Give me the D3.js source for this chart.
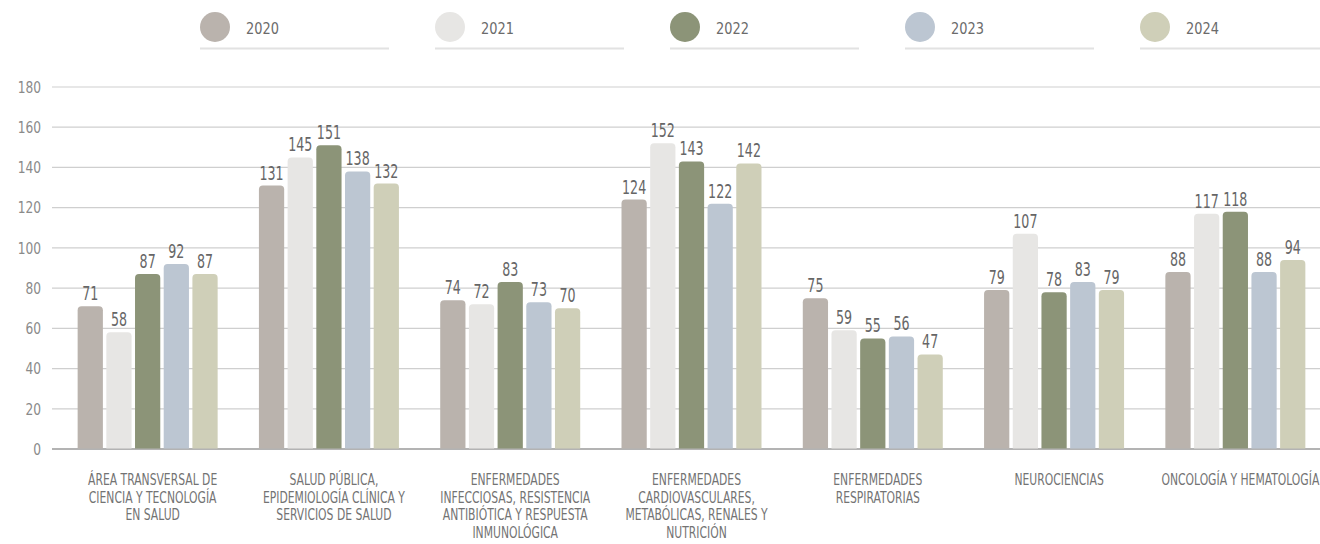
<!DOCTYPE html>
<html><head><meta charset="utf-8">
<script src="https://cdn.jsdelivr.net/npm/d3@7"></script>
<style>
body{margin:0;background:#fff;}
svg{font-family:"DejaVu Sans Condensed","Liberation Sans Narrow",sans-serif;}
</style></head>
<body><svg id="c" width="1320" height="544"></svg>
<script>
const categories = [
  ["ÁREA TRANSVERSAL DE","CIENCIA Y TECNOLOGÍA","EN SALUD"],
  ["SALUD PÚBLICA,","EPIDEMIOLOGÍA CLÍNICA Y","SERVICIOS DE SALUD"],
  ["ENFERMEDADES","INFECCIOSAS, RESISTENCIA","ANTIBIÓTICA Y RESPUESTA","INMUNOLÓGICA"],
  ["ENFERMEDADES","CARDIOVASCULARES,","METABÓLICAS, RENALES Y","NUTRICIÓN"],
  ["ENFERMEDADES","RESPIRATORIAS"],
  ["NEUROCIENCIAS"],
  ["ONCOLOGÍA Y HEMATOLOGÍA"]
];
const years = ["2020","2021","2022","2023","2024"];
const v2020 = [71,131,74,124,75,79,88];
const v2021 = [58,145,72,152,59,107,117];
const v2022 = [87,151,83,143,55,78,118];
const v2023 = [92,138,73,122,56,83,88];
const v2024 = [87,132,70,142,47,79,94];
const yTicks = [0,20,40,60,80,100,120,140,160,180];
const colors = ["#bab3ad","#e7e6e4","#8c9478","#bcc6d2","#cfcfb8"];

const series = [v2020,v2021,v2022,v2023,v2024];
const svg = d3.select("#c");
const y = d3.scaleLinear().domain([0,180]).range([449,87]);
const x0 = d3.scaleBand().domain(d3.range(categories.length)).range([57,1326]).paddingInner(0).paddingOuter(0);
const x1 = d3.scaleBand().domain(years).range([x0.bandwidth()/2-70, x0.bandwidth()/2+70]).paddingInner(0.12);

// condensed text helper
function ctext(sel, x, yy, sx){
  return sel.append("text").attr("transform",`translate(${x},${yy}) scale(${sx},1)`);
}

// grid
svg.append("g").selectAll("line").data(yTicks).join("line")
  .attr("x1",52).attr("x2",1320)
  .attr("y1",d=>y(d)).attr("y2",d=>y(d))
  .attr("stroke",d=>d===0?"#9a9a9a":"#cfcfcf").attr("stroke-width",d=>d===0?1.5:1.2);
const yl = svg.append("g");
yTicks.forEach(d=>{
  ctext(yl,41,y(d),0.85).attr("dy","0.36em").attr("text-anchor","end")
    .attr("fill","#8a8a8a").attr("font-size",16).text(d);
});

// bars
const r = 4;
function barPath(x,w,top,bottom){
  const h = bottom-top; const rr=Math.min(r,h/2,w/2);
  return `M${x},${bottom}V${top+rr}Q${x},${top} ${x+rr},${top}H${x+w-rr}Q${x+w},${top} ${x+w},${top+rr}V${bottom}Z`;
}
const groups = svg.append("g").selectAll("g").data(categories).join("g")
  .attr("transform",(d,i)=>`translate(${x0(i)},0)`);
groups.each(function(_,i){
  const g = d3.select(this);
  years.forEach((yr,k)=>{
    const val = series[k][i];
    g.append("path").attr("d",barPath(x1(yr),x1.bandwidth(),y(val),y(0)-0.5)).attr("fill",colors[k]);
    ctext(g,x1(yr)+x1.bandwidth()/2,y(val)-6,0.74)
      .attr("text-anchor","middle").attr("fill","#666").attr("font-size",19).text(val);
  });
  categories[i].forEach((ln,j)=>{
    ctext(g,x0.bandwidth()/2+5,485+j*17.5,0.8).attr("text-anchor","middle")
      .attr("fill","#737373").attr("font-size",15).text(ln);
  });
});

// legend
const leg = svg.append("g").selectAll("g").data(years).join("g")
  .attr("transform",(d,i)=>`translate(${200+i*235},0)`);
leg.append("circle").attr("cx",15).attr("cy",27).attr("r",15).attr("fill",(d,i)=>colors[i]);
leg.each(function(d){
  ctext(d3.select(this),46,28,0.9).attr("dy","0.36em").attr("fill","#6b6b6b").attr("font-size",16).text(d);
});
leg.append("line").attr("x1",0).attr("x2",189).attr("y1",48.5).attr("y2",48.5).attr("stroke","#e2e2e2").attr("stroke-width",2);
</script></body></html>
